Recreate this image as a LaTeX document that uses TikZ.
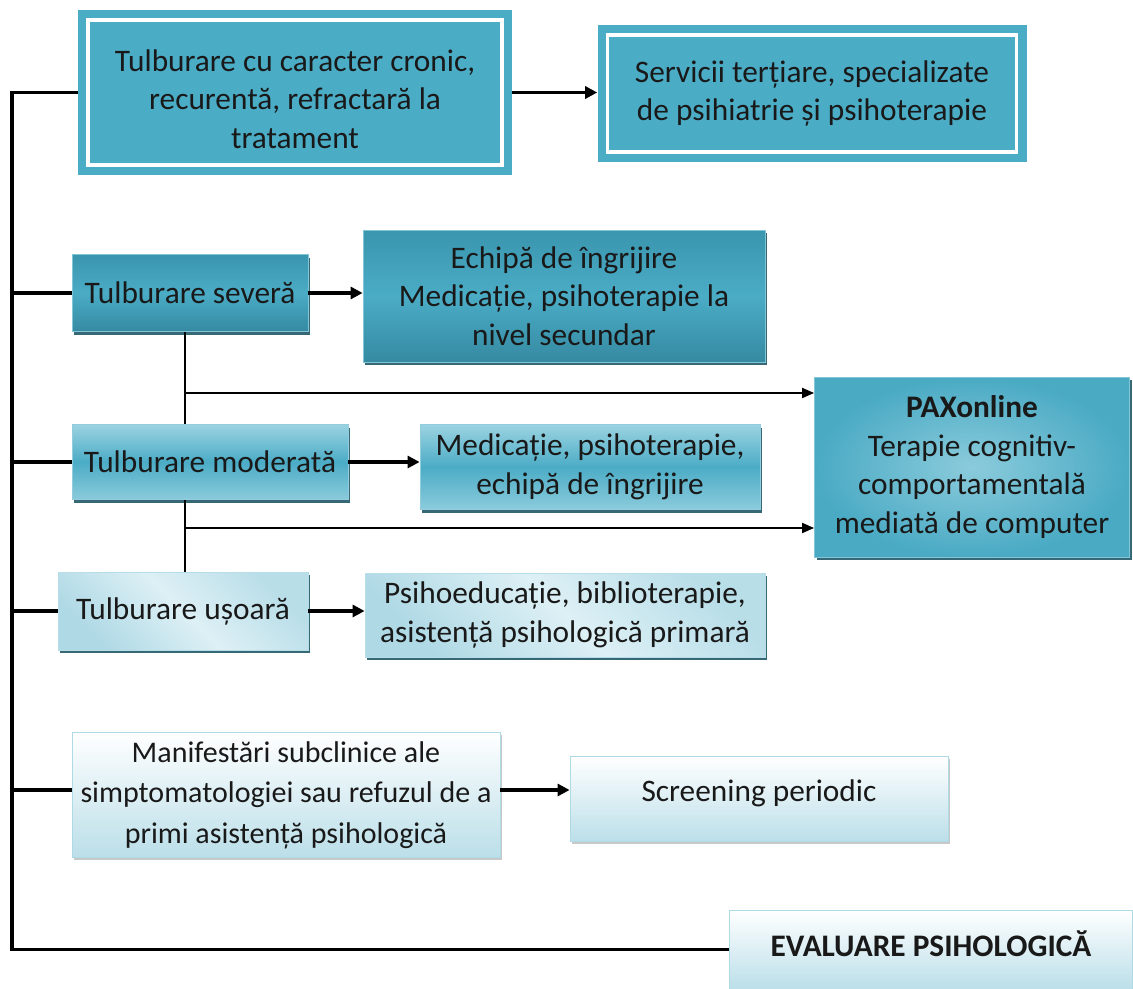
\documentclass[tikz,border=0pt]{standalone}
\usepackage{fontspec}
\setmainfont{Carlito}
\usetikzlibrary{arrows.meta,shadows,calc}
\definecolor{tealA}{HTML}{4BACC6}
\definecolor{tealD}{HTML}{31849B}
\definecolor{tealM}{HTML}{3A95AE}
\definecolor{tealL}{HTML}{9BD3E1}
\definecolor{paleA}{HTML}{DDF0F5}
\definecolor{paleB}{HTML}{AFD9E5}
\definecolor{shadowc}{HTML}{215868}
\begin{document}
\begin{tikzpicture}[x=0.75pt,y=-0.75pt,
  box/.style={rectangle, inner sep=0pt, align=center, text=black!90,
    font=\fontsize{23.5}{29}\selectfont},
  framed/.style={box, fill=tealA,
    path picture={\draw[white, line width=2.5pt]
      ([shift={(7.5pt,-7.5pt)}]path picture bounding box.north west) rectangle
      ([shift={(-7.5pt,7.5pt)}]path picture bounding box.south east);}},
  shad/.style={drop shadow={shadow xshift=1.5pt, shadow yshift=-2.5pt, fill=shadowc, opacity=0.9}},
  darkbox/.style={box, shad, top color=tealM, bottom color=tealD!85!tealA, middle color=tealA, draw=tealA!70!white, line width=0.6pt},
  midbox/.style={box, shad, top color=tealL, bottom color=tealL!80!tealA, middle color=tealA, draw=tealA!60!white, line width=0.6pt},
  palebox/.style={box, shad, left color=paleB, right color=paleB!80!paleA, middle color=paleA, shading angle=135, draw=tealA!40!white, line width=0.6pt},
  lightbox/.style={box, drop shadow={shadow xshift=1.2pt, shadow yshift=-2pt, fill=gray!60, opacity=0.7}, top color=white, bottom color=paleB!85!white, draw=tealA!45!white, line width=0.6pt},
  trunk/.style={line width=2.7pt, black},
  thinl/.style={line width=1.4pt, black},
  arr/.style={line width=2.7pt, black, -{Triangle[length=9pt,width=9pt]}},
  tarr/.style={line width=1.4pt, black, -{Triangle[length=9pt,width=7.5pt]}}
]
\useasboundingbox[fill=white] (0,0) rectangle (1133,989);

% nodes
\node[framed, minimum width=325.5pt, minimum height=123.75pt] (chron) at (295,92.5)
  {\rule{0pt}{26pt}Tulburare cu caracter cronic,\\recurentă, refractară la\\tratament};
\node[framed, minimum width=321.75pt, minimum height=102.75pt] (serv) at (812,93.5)
  {Servicii terțiare, specializate\\de psihiatrie și psihoterapie};

\node[darkbox, minimum width=177pt, minimum height=57.75pt] (sev) at (190,293) {Tulburare severă};
\node[darkbox, minimum width=301.5pt, minimum height=99pt] (ech) at (564,296)
  {Echipă de îngrijire\\Medicație, psihoterapie la\\nivel secundar};

\node[midbox, minimum width=207pt, minimum height=56.25pt] (mod) at (210,462) {Tulburare moderată};
\node[midbox, minimum width=255pt, minimum height=63.75pt] (medi) at (590,467)
  {Medicație, psihoterapie,\\echipă de îngrijire};

\node[palebox, minimum width=187.5pt, minimum height=58.5pt] (light) at (183,611) {Tulburare ușoară};
\node[palebox, minimum width=300pt, minimum height=63pt] (psi) at (565,615)
  {Psihoeducație, biblioterapie,\\asistență psihologică primară};

\node[box, shad, inner color=tealL!80!tealA, outer color=tealA!95!tealD, draw=tealA!70!white, line width=0.6pt,
  minimum width=236.25pt, minimum height=135pt] (pax) at (972,467)
  {\textbf{PAXonline}\\Terapie cognitiv-\\comportamentală\\mediată de computer};

\node[lightbox, minimum width=321pt, minimum height=93.75pt,
  font=\fontsize{22.5}{30.5}\selectfont] (sub) at (286,795)
  {Manifestări subclinice ale\\simptomatologiei sau refuzul de a\\primi asistență psihologică};
\node[lightbox, minimum width=283.5pt, minimum height=63.75pt] (scr) at (759,799)
  {\raisebox{12pt}{Screening periodic}};

\node[lightbox, minimum width=302.25pt, minimum height=59.25pt] (ev) at (931,949.5)
  {\raisebox{9pt}{\textbf{EVALUARE PSIHOLOGICĂ}}};

% trunk
\coordinate (tl) at (12,92.5);
\coordinate (bl) at (12,949.5);
\draw[trunk] (chron.west) -- (tl) -- (bl) -- (ev.west);
\draw[trunk] (sev.west -| tl) -- (sev.west);
\draw[trunk] (mod.west -| tl) -- (mod.west);
\draw[trunk] (light.west -| tl) -- (light.west);
\draw[trunk] ($(sub.west -| tl)+(0,-5)$) -- ($(sub.west)+(0,-5)$);

% arrows to treatments
\draw[arr] (chron.east) -- (chron.east -| serv.west);
\draw[arr] (sev.east) -- (sev.east -| ech.west);
\draw[arr] (mod.east) -- (mod.east -| medi.west);
\draw[arr] (light.east) -- (light.east -| psi.west);
\draw[arr] ($(sub.east)+(0,-5)$) -- ($(sub.east -| scr.west)+(0,-5)$);

% thin connectors to PAXonline
\coordinate (vx) at (185,0);
\coordinate (j1) at (185,393);
\coordinate (j2) at (185,528);
\draw[thinl] (sev.south -| vx) -- (mod.north -| vx);
\draw[thinl] (mod.south -| vx) -- (light.north -| vx);
\draw[tarr] (j1) -- (j1 -| pax.west);
\draw[tarr] (j2) -- (j2 -| pax.west);
\end{tikzpicture}
\end{document}
